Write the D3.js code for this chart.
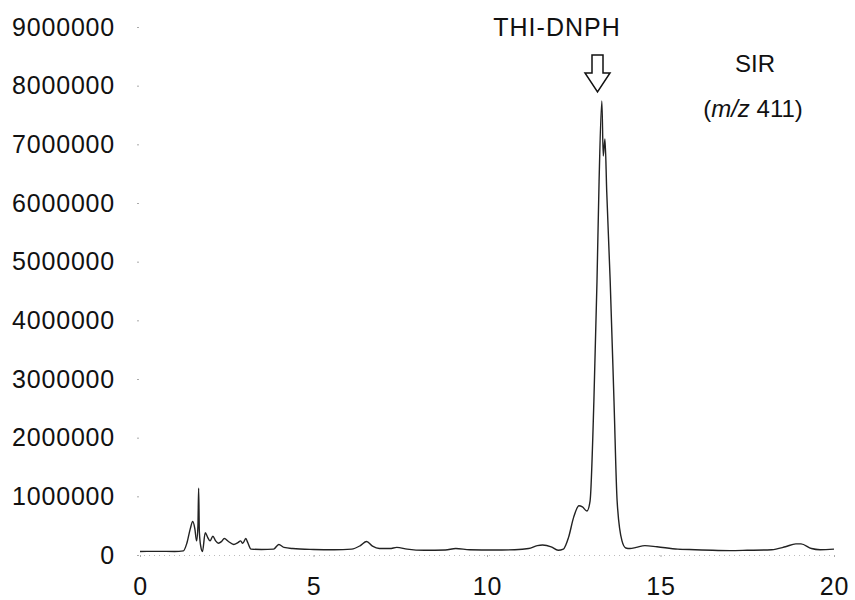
<!DOCTYPE html>
<meta charset="utf-8" />
<script src="https://d3js.org/d3.v7.min.js"></script>
<style>
  body { margin: 0; background: #fff; }
  text { font-family: "Liberation Sans", Arial, sans-serif; fill: #111; }
</style>
<body>
<div id="chart"></div>
<script>
// retention time (min) and SIR intensity
var time = [0, 0.5, 1.0, 1.25, 1.35, 1.45, 1.52, 1.58, 1.63, 1.67, 1.69, 1.71, 1.75, 1.80,
  1.88, 1.95, 2.02, 2.1, 2.18, 2.26, 2.35, 2.43, 2.55, 2.7, 2.82, 2.9, 2.96, 3.05, 3.1, 3.2,
  3.5, 3.85, 4.0, 4.15, 4.4, 5.0, 5.6, 6.1, 6.35, 6.53, 6.7, 6.9, 7.2, 7.4, 7.7, 8.2, 8.8,
  9.1, 9.5, 10.2, 10.8, 11.2, 11.45, 11.6, 11.85, 12.05, 12.2, 12.35, 12.5, 12.65, 12.75,
  12.88, 12.97, 13.08, 13.17, 13.23, 13.31, 13.35, 13.40, 13.45, 13.55, 13.66, 13.75, 13.89,
  14.0, 14.12, 14.3, 14.55, 14.9, 15.5, 16.0, 16.5, 17.0, 17.5, 18.2, 18.6, 18.9, 19.05,
  19.35, 19.6, 20.0];
var intensity = [60000, 62000, 60000, 70000, 200000, 450000, 570000, 450000, 240000, 500000,
  1140000, 400000, 150000, 60000, 380000, 300000, 240000, 320000, 240000, 200000, 230000,
  280000, 230000, 180000, 210000, 240000, 200000, 280000, 220000, 100000, 95000, 100000,
  180000, 130000, 110000, 95000, 90000, 100000, 160000, 230000, 150000, 110000, 110000,
  130000, 100000, 80000, 85000, 110000, 90000, 85000, 90000, 110000, 160000, 170000, 140000,
  80000, 100000, 300000, 650000, 840000, 820000, 750000, 920000, 2620000, 4670000, 6370000,
  7740000, 6800000, 7090000, 6200000, 4670000, 2620000, 920000, 240000, 120000, 110000,
  130000, 160000, 140000, 100000, 90000, 80000, 75000, 80000, 90000, 140000, 190000, 190000,
  110000, 90000, 100000];
var yTicks = [0, 1000000, 2000000, 3000000, 4000000, 5000000, 6000000, 7000000, 8000000, 9000000];
var xTicks = [0, 5, 10, 15, 20];

var width = 855, height = 600;
var svg = d3.select("#chart").append("svg")
  .attr("width", width).attr("height", height);

var x = d3.scaleLinear().domain([0, 20]).range([140, 834]);
var y = d3.scaleLinear().domain([0, 9000000]).range([555, 27]);

// y axis: only labels and tiny grey tick dots, no line
var yAxis = svg.append("g")
  .attr("transform", "translate(139,0)")
  .call(d3.axisLeft(y).tickValues(yTicks).tickFormat(d3.format("d")).tickSize(2).tickPadding(22));
yAxis.select(".domain").remove();
yAxis.selectAll(".tick line").attr("stroke", "#aaa");
yAxis.selectAll(".tick text").style("font-size", "25px").style("letter-spacing", "0.8px").attr("fill", "#111");

// x axis: faint dotted line
var xAxis = svg.append("g")
  .attr("transform", "translate(0,555)")
  .call(d3.axisBottom(x).tickValues(xTicks).tickSize(2).tickPadding(20));
xAxis.select(".domain").attr("stroke", "#bbb").attr("stroke-dasharray", "1,4");
xAxis.selectAll(".tick line").attr("stroke", "#aaa");
xAxis.selectAll(".tick text").style("font-size", "25px").style("letter-spacing", "0.8px").attr("fill", "#111");

var data = time.map(function (t, i) { return { t: t, v: intensity[i] }; });

var line = d3.line()
  .x(function (d) { return x(d.t); })
  .y(function (d) { return y(d.v); })
  .curve(d3.curveMonotoneX);

svg.append("path")
  .datum(data)
  .attr("fill", "none")
  .attr("stroke", "#222")
  .attr("stroke-width", 1.4)
  .attr("d", line);

// annotation
svg.append("text")
  .attr("x", 557).attr("y", 36)
  .attr("text-anchor", "middle")
  .style("font-size", "25px")
  .style("letter-spacing", "1px")
  .text("THI-DNPH");

// hollow down arrow above the peak
var ax = 597.5;
svg.append("path")
  .attr("d", "M" + (ax - 5.5) + ",55 L" + (ax + 5.5) + ",55 L" + (ax + 5.5) + ",73 L" + (ax + 12.5) + ",73 L" + ax + ",92 L" + (ax - 12.5) + ",73 L" + (ax - 5.5) + ",73 Z")
  .attr("fill", "#fff")
  .attr("stroke", "#111")
  .attr("stroke-width", 1.5);

svg.append("text")
  .attr("x", 755).attr("y", 72)
  .attr("text-anchor", "middle")
  .style("font-size", "24px")
  .text("SIR");

var mz = svg.append("text")
  .attr("x", 753).attr("y", 117)
  .attr("text-anchor", "middle")
  .style("font-size", "24px");
mz.append("tspan").text("(");
mz.append("tspan").style("font-style", "italic").text("m/z");
mz.append("tspan").text(" 411)");
</script>
</body>
